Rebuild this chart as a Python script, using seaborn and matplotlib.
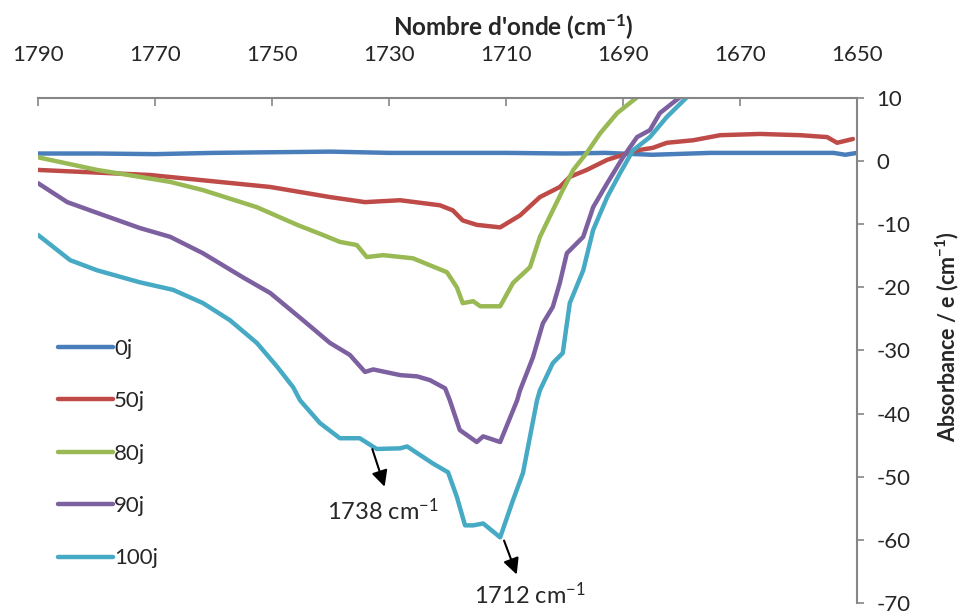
import pandas as pd
import matplotlib
matplotlib.use('Agg')
import matplotlib.pyplot as plt
import seaborn as sns

# spectres (nombre d'onde, absorbance/e)
wn_0j = [1790, 1780, 1770, 1760, 1750, 1740, 1730, 1720, 1710, 1700, 1693, 1685, 1675, 1665, 1658, 1654, 1652, 1650]
abs_0j = [1.2, 1.2, 1.1, 1.3, 1.4, 1.5, 1.3, 1.3, 1.3, 1.2, 1.3, 1.0, 1.3, 1.3, 1.3, 1.3, 1.0, 1.3]

wn_50j = [1790, 1770.9, 1750.3, 1740.1, 1734.1, 1728.1, 1721.3, 1719.1, 1717.4, 1715.0, 1711.0, 1707.6, 1704.2,
          1700.8, 1699.1, 1696.2, 1692.7, 1687.6, 1684.9, 1682.5, 1678.0, 1673.4, 1666.6, 1659.7, 1655.1, 1653.4, 1650.7]
abs_50j = [-1.4, -2.2, -4.1, -5.7, -6.5, -6.2, -7.0, -7.8, -9.4, -10.1, -10.5, -8.6, -5.7,
           -4.1, -2.5, -1.4, 0.2, 1.7, 2.1, 2.9, 3.3, 4.1, 4.3, 4.1, 3.8, 2.9, 3.5]

wn_80j = [1790, 1779.9, 1772.6, 1767.4, 1761.8, 1752.6, 1745.7, 1741.3, 1738.4, 1735.5, 1733.8, 1731.0, 1725.9,
          1720.1, 1718.4, 1717.4, 1715.6, 1714.4, 1711.0, 1708.8, 1705.9, 1704.2, 1702.0, 1700.3, 1698.5, 1696.2,
          1693.9, 1691.0, 1687.6, 1686.0]
abs_80j = [0.6, -1.4, -2.5, -3.3, -4.6, -7.3, -10.1, -11.7, -12.8, -13.3, -15.2, -14.9, -15.4,
           -17.6, -20.0, -22.5, -22.2, -23.0, -23.0, -19.3, -16.8, -12.0, -7.8, -4.6, -1.4, 1.3,
           4.4, 7.6, 10.1, 12.0]

wn_90j = [1790, 1785.0, 1779.9, 1772.6, 1767.4, 1761.8, 1755.0, 1750.3, 1744.7, 1740.1, 1736.7, 1734.1, 1732.7,
          1728.1, 1725.2, 1723.0, 1720.4, 1719.6, 1717.9, 1715.0, 1713.9, 1711.0, 1708.1, 1707.6, 1705.4, 1703.7,
          1702.0, 1700.8, 1699.6, 1696.8, 1695.1, 1692.7, 1690.0, 1687.6, 1685.4, 1683.7, 1680.3, 1679.0]
abs_90j = [-3.5, -6.5, -8.2, -10.6, -12.0, -14.6, -18.4, -20.9, -25.2, -28.8, -30.7, -33.4, -33.0,
           -33.9, -34.1, -34.7, -36.0, -37.9, -42.6, -44.5, -43.6, -44.5, -37.9, -36.3, -31.1, -25.7,
           -23.1, -19.3, -14.6, -12.0, -7.3, -3.5, 0.6, 3.8, 4.9, 7.6, 10.1, 11.5]

wn_100j = [1790, 1784.5, 1779.9, 1772.6, 1766.9, 1761.8, 1757.2, 1752.6, 1749.1, 1746.4, 1745.2, 1741.8, 1738.4,
           1735.0, 1732.1, 1728.1, 1726.9, 1722.5, 1719.9, 1718.4, 1717.0, 1715.6, 1713.9, 1711.0, 1708.8, 1707.1,
           1704.7, 1704.2, 1702.0, 1700.3, 1699.1, 1696.8, 1695.1, 1692.7, 1690.5, 1688.3, 1685.4, 1682.5, 1679.1,
           1678.0]
abs_100j = [-11.7, -15.7, -17.3, -19.2, -20.4, -22.5, -25.2, -28.8, -32.6, -35.8, -37.9, -41.5, -43.9,
            -43.9, -45.6, -45.5, -45.2, -47.9, -49.3, -53.2, -57.7, -57.7, -57.4, -59.6, -53.7, -49.4,
            -37.9, -36.3, -32.0, -30.4, -22.5, -17.3, -10.9, -5.7, -1.9, 1.7, 3.8, 7.0, 10.1, 11.5]

series = ['0j', '50j', '80j', '90j', '100j']
couleurs = ['#4A7EBB', '#BE4B48', '#98B954', '#7D60A0', '#46AAC5']

df = pd.concat([
    pd.DataFrame({'wn': w, 'abs': a, 'echantillon': s})
    for w, a, s in zip([wn_0j, wn_50j, wn_80j, wn_90j, wn_100j],
                       [abs_0j, abs_50j, abs_80j, abs_90j, abs_100j], series)
], ignore_index=True)

sns.set_style('white')
plt.rcParams['font.family'] = ['Lato', 'DejaVu Sans']
plt.rcParams['mathtext.default'] = 'regular'
plt.rcParams['axes.unicode_minus'] = False
plt.rcParams['lines.solid_capstyle'] = 'round'
plt.rcParams['lines.solid_joinstyle'] = 'round'

fig = plt.figure(figsize=(9.6, 6.13), dpi=100)
ax = fig.add_axes([0.0396, 0.0163, 0.8531, 0.8239])

sns.lineplot(data=df, x='wn', y='abs', hue='echantillon', hue_order=series, palette=couleurs,
             estimator=None, sort=False, linewidth=3.2, ax=ax)

ax.set_xlim(1790, 1650)
ax.set_ylim(-70, 10)
ax.set_xticks(range(1790, 1649, -20))
ax.set_yticks(range(-70, 11, 10))

ax.xaxis.tick_top()
ax.xaxis.set_label_position('top')
ax.yaxis.tick_right()
ax.yaxis.set_label_position('right')
ax.set_xlabel("Nombre d'onde (cm$^{-1}$)", fontsize=17.5, fontweight='bold')
ax.xaxis.set_label_coords(0.58, 1.123)
ax.set_ylabel("Absorbance / e (cm$^{-1}$)", fontsize=15.5, fontweight='bold')
ax.yaxis.set_label_coords(1.093, 0.527)
ax.tick_params(axis='x', direction='in', length=6, width=1.2, color='#868686', labelsize=16, pad=23.5)
ax.tick_params(axis='y', direction='out', length=5, width=1.2, color='#868686', labelsize=16, pad=9)
for cote in ['left', 'bottom']:
    ax.spines[cote].set_visible(False)
for cote in ['top', 'right']:
    ax.spines[cote].set_color('#868686')
    ax.spines[cote].set_linewidth(1.5)

ax.legend(loc='upper left', bbox_to_anchor=(0.0135, 0.541), frameon=False, fontsize=16,
          handlelength=2.48, handletextpad=0.05, labelspacing=1.46, borderaxespad=0)

# annotations des pics
ax.annotate('', xy=(1730.6, -52.0), xytext=(1733.0, -45.2),
            arrowprops=dict(arrowstyle='-|>', color='black', lw=1.5, mutation_scale=24))
ax.text(1731.0, -55.3, '1738 cm$^{-1}$', fontsize=17, ha='center', va='center')
ax.annotate('', xy=(1708.0, -65.9), xytext=(1710.5, -59.7),
            arrowprops=dict(arrowstyle='-|>', color='black', lw=1.5, mutation_scale=24))
ax.text(1705.9, -68.6, '1712 cm$^{-1}$', fontsize=17, ha='center', va='center')

fig.savefig('out.png', dpi=100)
